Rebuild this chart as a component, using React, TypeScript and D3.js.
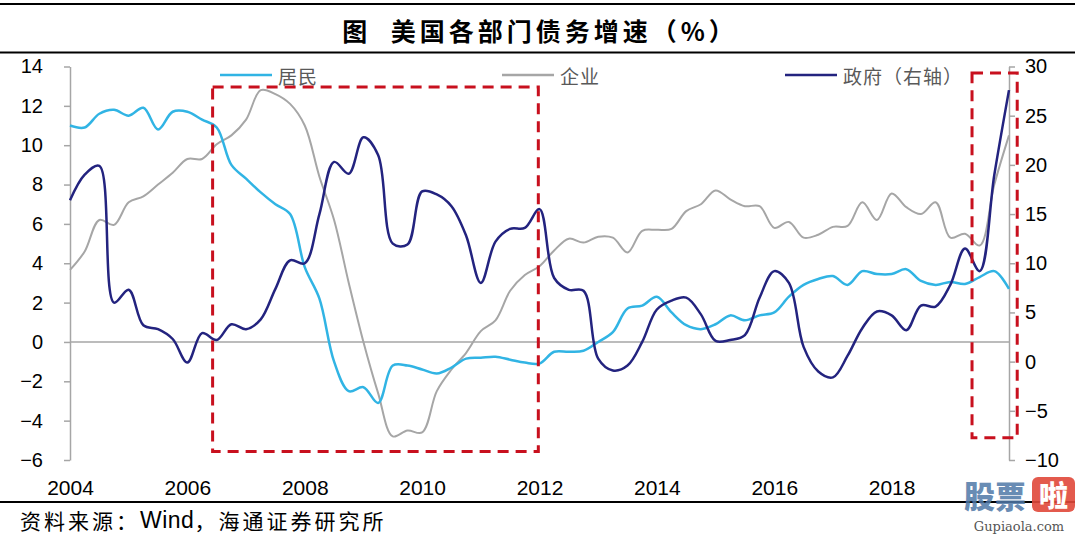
import React, { useRef, useEffect } from "react";
import * as d3 from "d3";

const WIDTH = 1080;
const HEIGHT = 534;

// quarterly, 2004Q1 .. 2020Q1
const startYear = 2004;
const household = [
  11.0, 10.9, 11.6, 11.8, 11.5, 11.9, 10.8, 11.7, 11.7, 11.3, 10.9, 9.0, 8.3,
  7.6, 7.0, 6.5, 3.8, 2.2, -1.0, -2.5, -2.3, -3.1, -1.2, -1.2, -1.4, -1.6,
  -1.3, -0.85, -0.8, -0.75, -0.9, -1.05, -1.1, -0.5, -0.5, -0.45, 0.0, 0.5,
  1.7, 1.85, 2.3, 1.5, 0.85, 0.65, 0.9, 1.35, 1.1, 1.35, 1.5, 2.3, 2.9, 3.2,
  3.35, 2.9, 3.6, 3.45, 3.45, 3.7, 3.1, 2.9, 3.05, 2.95, 3.3, 3.6, 2.7,
];
const business = [
  3.66, 4.6, 6.2, 5.95, 7.1, 7.4, 8.0, 8.6, 9.3, 9.3, 10.05, 10.5, 11.3, 12.8,
  12.6, 12.1, 11.0, 8.4, 6.2, 3.0, 0.0, -2.6, -4.8, -4.5, -4.6, -2.5, -1.4,
  -0.55, 0.55, 1.1, 2.6, 3.4, 3.85, 4.65, 5.25, 5.05, 5.35, 5.3, 4.55, 5.65,
  5.7, 5.75, 6.65, 7.0, 7.7, 7.25, 6.9, 6.9, 5.8, 6.1, 5.3, 5.45, 5.85, 5.9,
  7.1, 6.2, 7.55, 6.85, 6.5, 7.1, 5.3, 5.5, 4.9, 8.0, 10.5,
];
// right axis
const government = [
  16.4, 19.0, 19.9, 6.0, 7.3, 3.7, 3.3, 2.3, -0.1, 2.9, 2.2, 3.8, 3.3, 4.3,
  7.4, 10.3, 10.0, 15.0, 20.3, 19.1, 22.8, 21.0, 12.0, 11.9, 17.3, 17.0, 15.8,
  12.8, 8.0, 12.2, 13.5, 13.6, 15.5, 8.5, 7.3, 7.2, 0.3, -0.9, -0.4, 2.0, 5.3,
  6.2, 6.5, 4.8, 2.1, 2.2, 2.7, 6.5, 9.2, 8.0, 1.5, -1.0, -1.6, 0.6, 3.4, 5.1,
  4.7, 3.2, 5.7, 5.6, 7.8, 11.5, 9.2, 19.0, 27.6,
];

const leftTicks = [-6, -4, -2, 0, 2, 4, 6, 8, 10, 12, 14];
const rightTicks = [-10, -5, 0, 5, 10, 15, 20, 25, 30];
const yearTicks = [2004, 2006, 2008, 2010, 2012, 2014, 2016, 2018];

const seriesNames = ["居民", "企业", "政府（右轴）"];
const colors = ["#31b4e4", "#a6a6a6", "#23237f"];

// highlighted periods (year range, value range, axis)
const boxes = [
  { x0: 2006.43, x1: 2011.98, y0: -5.57, y1: 12.96, axis: "left" },
  { x0: 2019.37, x1: 2020.14, y0: -7.75, y1: 29.35, axis: "right" },
];

const x = d3.scaleLinear().domain([2004, 2020]).range([70, 1009]);
const yL = d3.scaleLinear().domain([-6, 14]).range([460, 66.5]);
const yR = d3.scaleLinear().domain([-10, 30]).range([460, 66.5]);

const toPoints = (vals: number[]) =>
  vals.map((v, i) => ({ t: startYear + i * 0.25, v }));

function App() {
  const leftRef = useRef<SVGGElement>(null);
  const rightRef = useRef<SVGGElement>(null);
  const bottomRef = useRef<SVGGElement>(null);

  useEffect(() => {
    const styleAxis = (g: any, size: number) => {
      g.select(".domain").attr("stroke", "#a6a6a6").attr("stroke-width", 1.5);
      g.selectAll(".tick line").attr("stroke", "#a6a6a6").attr("stroke-width", 1.5);
      g.selectAll(".tick text")
        .attr("fill", "#000")
        .style("font-family", "Arial, 'Liberation Sans', sans-serif")
        .style("font-size", size + "px");
    };
    const left = d3.select(leftRef.current);
    left.call(
      d3.axisLeft(yL).tickValues(leftTicks).tickSize(6).tickSizeOuter(0).tickPadding(21) as any
    );
    styleAxis(left, 20);

    const right = d3.select(rightRef.current);
    right.call(
      d3.axisRight(yR).tickValues(rightTicks).tickSize(6).tickSizeOuter(0).tickPadding(10) as any
    );
    styleAxis(right, 20);

    const bottom = d3.select(bottomRef.current);
    bottom.call(
      d3.axisBottom(x).tickValues(yearTicks).tickFormat(d3.format("d") as any).tickSize(0).tickPadding(0) as any
    );
    bottom.select(".domain").remove();
    styleAxis(bottom, 21);
  }, []);

  const lineL = d3
    .line<{ t: number; v: number }>()
    .x((d) => x(d.t))
    .y((d) => yL(d.v))
    .curve(d3.curveCatmullRom.alpha(0.5));
  const lineR = d3
    .line<{ t: number; v: number }>()
    .x((d) => x(d.t))
    .y((d) => yR(d.v))
    .curve(d3.curveCatmullRom.alpha(0.5));

  const legendX = [220, 502, 785];
  const cjk = "'Noto Sans CJK SC', sans-serif";

  return (
    <svg
      width={WIDTH}
      height={HEIGHT}
      style={{ position: "absolute", left: 0, top: 0, background: "#fff" }}
    >
      {/* title */}
      <line x1={0} x2={1075} y1={4} y2={4} stroke="#000" strokeWidth={2} />
      <line x1={0} x2={1075} y1={52.5} y2={52.5} stroke="#000" strokeWidth={2} />
      <text
        x={540}
        y={30}
        textAnchor="middle"
        dominantBaseline="central"
        style={{ fontFamily: cjk, fontSize: 25, fontWeight: 700, letterSpacing: 4, whiteSpace: "pre" }}
      >
        {"图  美国各部门债务增速（%）"}
      </text>

      {/* zero line */}
      <line x1={x(2004)} x2={x(2020)} y1={yL(0)} y2={yL(0)} stroke="#a6a6a6" strokeWidth={1.5} />

      <g ref={leftRef} transform={`translate(${x(2004)},0)`} />
      <g ref={rightRef} transform={`translate(${x(2020)},0)`} />
      <g ref={bottomRef} transform="translate(0,480)" />

      {/* series */}
      <path d={lineL(toPoints(business)) || ""} fill="none" stroke={colors[1]} strokeWidth={2} />
      <path d={lineL(toPoints(household)) || ""} fill="none" stroke={colors[0]} strokeWidth={2.5} />
      <path d={lineR(toPoints(government)) || ""} fill="none" stroke={colors[2]} strokeWidth={2.5} />

      {/* highlight boxes */}
      {boxes.map((b, i) => {
        const ys = b.axis === "left" ? yL : yR;
        return (
          <rect
            key={i}
            x={x(b.x0)}
            y={ys(b.y1)}
            width={x(b.x1) - x(b.x0)}
            height={ys(b.y0) - ys(b.y1)}
            fill="none"
            stroke="#c8101e"
            strokeWidth={3}
            strokeDasharray="11 7"
          />
        );
      })}

      {/* legend */}
      {seriesNames.map((name, i) => (
        <g key={name} transform={`translate(${legendX[i]},75)`}>
          <line x1={0} x2={52} y1={0} y2={0} stroke={colors[i]} strokeWidth={2.5} />
          <text
            x={58}
            y={0}
            dominantBaseline="central"
            fill="#595959"
            style={{ fontFamily: cjk, fontSize: 19, letterSpacing: 1 }}
          >
            {name}
          </text>
        </g>
      ))}

      {/* source */}
      <line x1={0} x2={1075} y1={502} y2={502} stroke="#000" strokeWidth={2} />
      <text
        x={20}
        y={520}
        dominantBaseline="central"
        style={{ fontFamily: cjk, fontSize: 21, letterSpacing: 3 }}
      >
        资料来源：
        <tspan style={{ fontFamily: "Arial, 'Liberation Sans', sans-serif", fontSize: 23, letterSpacing: 0.5 }}>
          Wind
        </tspan>
        ，海通证券研究所
      </text>

      {/* watermark */}
      <text
        x={964}
        y={494}
        dominantBaseline="central"
        fill="#4f78a8"
        opacity={0.85}
        style={{ fontFamily: cjk, fontSize: 31, fontWeight: 900 }}
      >
        股票
      </text>
      <rect x={1032} y={477} width={43} height={35} rx={6} fill="#e0483a" opacity={0.9} />
      <text
        x={1053.5}
        y={494}
        textAnchor="middle"
        dominantBaseline="central"
        fill="#fff"
        style={{ fontFamily: cjk, fontSize: 29, fontWeight: 900 }}
      >
        啦
      </text>
      <text
        x={1019}
        y={526}
        textAnchor="middle"
        dominantBaseline="central"
        fill="#555"
        style={{ fontFamily: "'DejaVu Serif', serif", fontSize: 13 }}
      >
        Gupiaola.com
      </text>
    </svg>
  );
}

export default App;
